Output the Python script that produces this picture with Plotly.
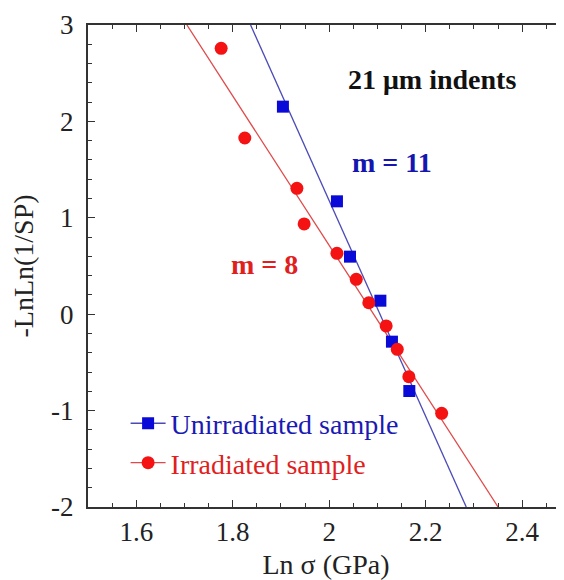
"""
Weibull plot of indent fracture strength, unirradiated vs irradiated.
"""

import plotly.graph_objects as go

unirr_x = [1.904, 2.016, 2.043, 2.106, 2.130, 2.166]
unirr_y = [2.153, 1.171, 0.597, 0.140, -0.285, -0.797]

irr_x = [1.776, 1.825, 1.933, 1.948, 2.016, 2.056, 2.082, 2.118, 2.141, 2.165, 2.233]
irr_y = [2.758, 1.828, 1.306, 0.936, 0.632, 0.362, 0.119, -0.122, -0.364, -0.648, -1.028]

# fitted Weibull lines (end points at the frame)
unirr_fit_x = [1.837, 2.284]
unirr_fit_y = [3.0, -2.0]
irr_fit_x = [1.705, 2.350]
irr_fit_y = [3.0, -2.0]

x_ticks = [1.6, 1.8, 2.0, 2.2, 2.4]
x_labels = ["1.6", "1.8", "2", "2.2", "2.4"]
y_ticks = [-2, -1, 0, 1, 2, 3]
y_labels = ["-2", "-1", "0", "1", "2", "3"]

BLUE = "#0a0ad8"
BLUE_LINE = "#4b4bb8"
RED = "#f41212"
RED_LINE = "#de4a4a"
FONT = "Liberation Serif, Times New Roman, serif"
AXIS = "#333333"
TXT = "#222222"

fig = go.Figure()

fig.add_trace(go.Scatter(x=unirr_fit_x, y=unirr_fit_y, mode="lines",
                         line=dict(color=BLUE_LINE, width=1.3), showlegend=False))
fig.add_trace(go.Scatter(x=irr_fit_x, y=irr_fit_y, mode="lines",
                         line=dict(color=RED_LINE, width=1.3), showlegend=False))
fig.add_trace(go.Scatter(x=unirr_x, y=unirr_y, mode="markers",
                         marker=dict(symbol="square", size=12, color=BLUE),
                         showlegend=False))
fig.add_trace(go.Scatter(x=irr_x, y=irr_y, mode="markers",
                         marker=dict(symbol="circle", size=13, color=RED),
                         showlegend=False))

# legend entries drawn as line + marker, like the original
fig.add_trace(go.Scatter(x=[None], y=[None], mode="lines+markers",
                         name="<span style='color:#1a1ab4'>Unirradiated sample</span>",
                         line=dict(color=BLUE_LINE, width=1.3),
                         marker=dict(symbol="square", size=12, color=BLUE)))
fig.add_trace(go.Scatter(x=[None], y=[None], mode="lines+markers",
                         name="<span style='color:#e01f1f'>Irradiated sample</span>",
                         line=dict(color=RED_LINE, width=1.3),
                         marker=dict(symbol="circle", size=13, color=RED)))

fig.add_annotation(x=2.2125, y=2.43, text="<b>21 μm indents</b>", showarrow=False,
                   font=dict(family=FONT, size=28, color="#111111"))
fig.add_annotation(x=2.13, y=1.57, text="<b>m = 11</b>", showarrow=False,
                   font=dict(family=FONT, size=28, color="#1515b0"))
fig.add_annotation(x=1.865, y=0.52, text="<b>m = 8</b>", showarrow=False,
                   font=dict(family=FONT, size=28, color="#e01f1f"))

fig.update_xaxes(
    range=[1.5, 2.4866],
    tickmode="array", tickvals=x_ticks, ticktext=x_labels,
    ticks="inside", ticklen=7, tickwidth=1.2, tickcolor=AXIS,
    minor=dict(dtick=0.05, tick0=1.5, ticks="inside", ticklen=4,
               tickwidth=1, tickcolor=AXIS),
    showline=True, linewidth=2, linecolor=AXIS, mirror="ticks",
    showgrid=False, zeroline=False, automargin=False,
    tickfont=dict(family=FONT, size=27, color=TXT),
    ticklabelstandoff=0,
    title=dict(text="Ln σ (GPa)", font=dict(family=FONT, size=28, color=TXT),
               standoff=8),
)
fig.update_yaxes(
    range=[-2, 3],
    tickmode="array", tickvals=y_ticks, ticktext=y_labels,
    ticks="inside", ticklen=7, tickwidth=1.2, tickcolor=AXIS,
    minor=dict(dtick=0.2, tick0=-2, ticks="inside", ticklen=4,
               tickwidth=1, tickcolor=AXIS),
    showline=True, linewidth=2, linecolor=AXIS, mirror=False,
    showgrid=False, zeroline=False, automargin=False,
    tickfont=dict(family=FONT, size=27, color=TXT),
    ticklabelstandoff=7,
    title=dict(text="-LnLn(1/SP)", font=dict(family=FONT, size=28, color=TXT),
               standoff=10),
)

# page body has an 8px margin, so the figure is 8px smaller than the window
fig.update_layout(
    width=556, height=572,
    margin=dict(l=79.5, r=0, t=17, b=73),
    paper_bgcolor="white", plot_bgcolor="white",
    font=dict(family=FONT),
    legend=dict(x=0.079, y=0.225, xanchor="left", yanchor="top",
                bgcolor="rgba(0,0,0,0)", font=dict(family=FONT, size=28),
                tracegroupgap=0, itemwidth=35),
)

fig.write_html("out.html")
